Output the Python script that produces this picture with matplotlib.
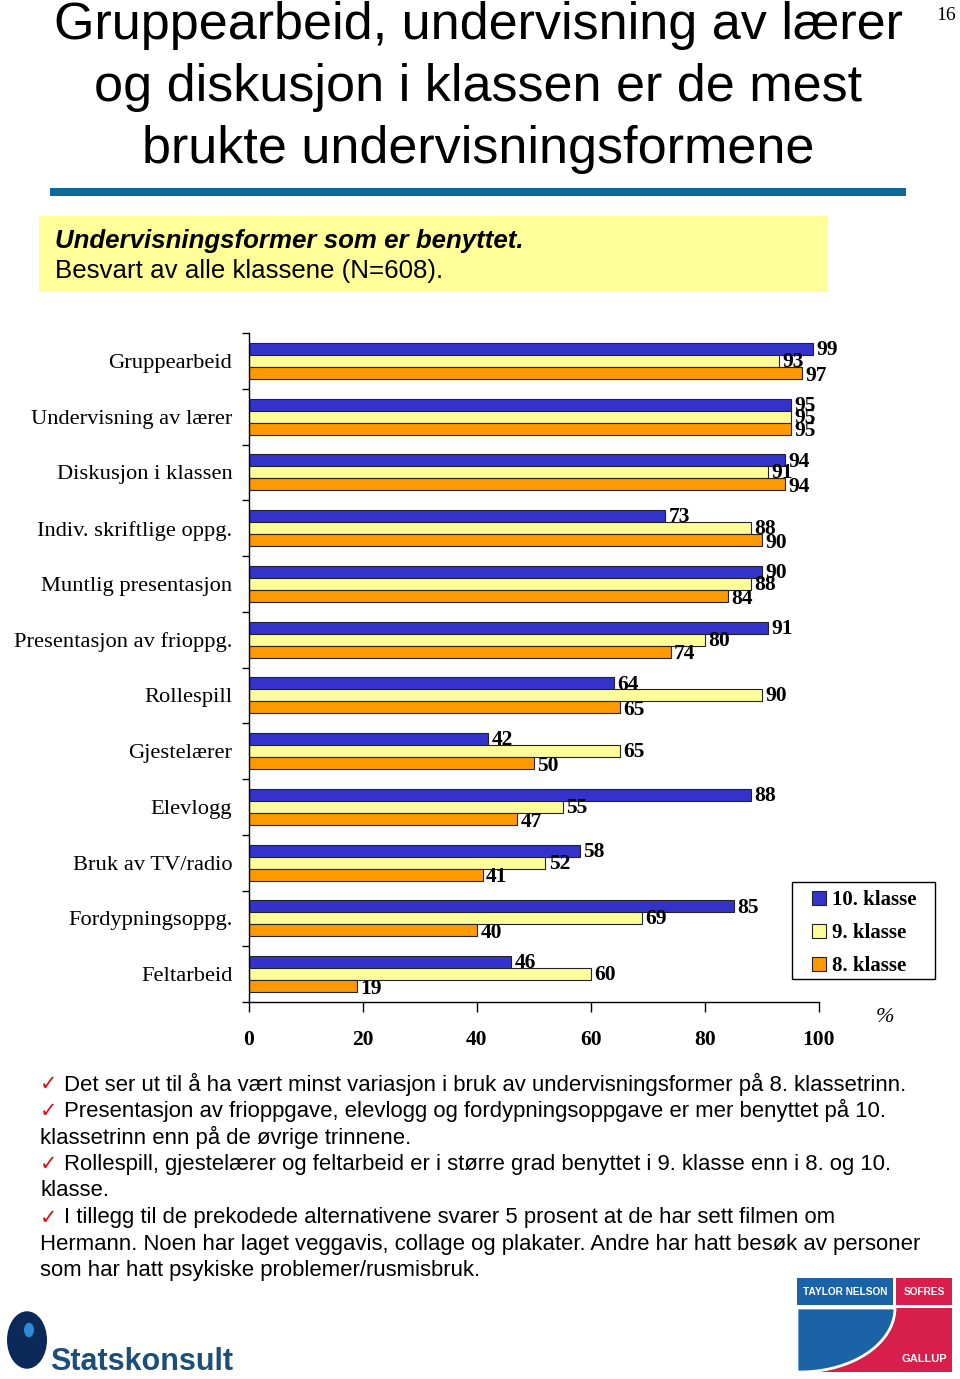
import matplotlib
matplotlib.use("Agg")
import matplotlib.pyplot as plt
import numpy as np
from matplotlib.patches import Rectangle, Patch, Circle, Polygon

categories = ["Gruppearbeid", "Undervisning av lærer", "Diskusjon i klassen",
              "Indiv. skriftlige oppg.", "Muntlig presentasjon", "Presentasjon av frioppg.",
              "Rollespill", "Gjestelærer", "Elevlogg", "Bruk av TV/radio",
              "Fordypningsoppg.", "Feltarbeid"]
series_names = ["10. klasse", "9. klasse", "8. klasse"]
klasse10 = [99, 95, 94, 73, 90, 91, 64, 42, 88, 58, 85, 46]
klasse9 = [93, 95, 91, 88, 88, 80, 90, 65, 55, 52, 69, 60]
klasse8 = [97, 95, 94, 90, 84, 74, 65, 50, 47, 41, 40, 19]
x_ticks = [0, 20, 40, 60, 80, 100]

title_lines = ["Gruppearbeid, undervisning av lærer",
               "og diskusjon i klassen er de mest",
               "brukte undervisningsformene"]
subtitle_bold = "Undervisningsformer som er benyttet."
subtitle = "Besvart av alle klassene (N=608)."
bullets = [
    ["Det ser ut til å ha vært minst variasjon i bruk av undervisningsformer på 8. klassetrinn."],
    ["Presentasjon av frioppgave, elevlogg og fordypningsoppgave er mer benyttet på 10.",
     "klassetrinn enn på de øvrige trinnene."],
    ["Rollespill, gjestelærer og feltarbeid er i større grad benyttet i 9. klasse enn i 8. og 10.",
     "klasse."],
    ["I tillegg til de prekodede alternativene svarer 5 prosent at de har sett filmen om",
     "Hermann. Noen har laget veggavis, collage og plakater. Andre har hatt besøk av personer",
     "som har hatt psykiske problemer/rusmisbruk."],
]

W, H = 960, 1379
fig = plt.figure(figsize=(W / 100, H / 100), dpi=100)
fig.patch.set_facecolor("white")

def fx(x):
    return x / W

def fy(y):
    return 1 - y / H

serif = "Liberation Serif"
sans = "Liberation Sans"

# Title
for i, line in enumerate(title_lines):
    fig.text(fx(478), fy(26 + 61.5 * i), line, ha="center", va="center",
             fontsize=37.5, family=sans)
fig.text(fx(946), fy(15), "16", ha="center", va="center", fontsize=14, family=serif)

# Blue rule
fig.add_artist(Rectangle((fx(50), fy(196)), fx(856), 8 / H, transform=fig.transFigure,
                         facecolor="#0D6A9B", edgecolor="none"))
# Yellow box
fig.add_artist(Rectangle((fx(39), fy(292)), fx(789), 76 / H, transform=fig.transFigure,
                         facecolor="#FFFF99", edgecolor="none"))
fig.text(fx(55), fy(241), subtitle_bold, ha="left", va="center", fontsize=18.6,
         family=sans, weight="bold", style="italic")
fig.text(fx(55), fy(271), subtitle, ha="left", va="center", fontsize=18.6, family=sans)

# Chart
ax = fig.add_axes([fx(249), fy(1002), fx(570), (1002 - 333) / H])
n = len(categories)
y = np.arange(n)
h = 0.215
colors = ["#3333CC", "#FFFF99", "#FF9900"]
data = [klasse10, klasse9, klasse8]
offsets = [-h, 0, h]
label_dy = [0.02, 0.02, 0.05]
for vals, col, off, dy in zip(data, colors, offsets, label_dy):
    ax.barh(y + off, vals, height=h, color=col, edgecolor="#222222", linewidth=0.8)
    for yi, v in zip(y, vals):
        ax.text(v + 0.6, yi + off + dy, str(v), ha="left", va="center",
                fontsize=15.5, family=serif, weight="bold")

ax.set_xlim(0, 100)
ax.set_ylim(n - 0.5, -0.5)
ax.set_xticks(x_ticks)
ax.set_xticklabels([str(t) for t in x_ticks], family=serif, weight="bold", fontsize=15.5)
ax.set_yticks(y)
ax.set_yticklabels(categories, family=serif, fontsize=16.2)
ax.set_yticks(np.arange(n + 1) - 0.5, minor=True)
ax.tick_params(axis="y", which="major", length=0, pad=12)
ax.tick_params(axis="y", which="minor", length=5, width=1, direction="out")
ax.tick_params(axis="x", length=7, width=1, direction="out", pad=13)
for s in ["top", "right"]:
    ax.spines[s].set_visible(False)
for s in ["left", "bottom"]:
    ax.spines[s].set_linewidth(1)

fig.text(fx(885), fy(1018), "%", ha="center", va="center", fontsize=16,
         family=serif, style="italic")

# Legend
fig.add_artist(Rectangle((fx(792), fy(979)), fx(143), 97 / H, transform=fig.transFigure,
                         facecolor="white", edgecolor="black", linewidth=1))
handles = [Patch(facecolor=c, edgecolor="#222222", linewidth=0.8) for c in colors]
leg = fig.legend(handles, series_names, loc="upper left",
                 bbox_to_anchor=(fx(806), fy(884)), frameon=False,
                 prop={"family": serif, "weight": "bold", "size": 15},
                 handlelength=0.65, handleheight=0.7, handletextpad=0.3,
                 labelspacing=0.62, borderpad=0.3, borderaxespad=0)

# Bullets
yline = 1084
step = 26.7
for b in bullets:
    for j, line in enumerate(b):
        if j == 0:
            fig.text(fx(40), fy(yline), "✓", ha="left", va="center", fontsize=15,
                     family="DejaVu Sans", color="#E01010")
            fig.text(fx(64), fy(yline), line, ha="left", va="center", fontsize=15.9, family=sans)
        else:
            fig.text(fx(40), fy(yline), line, ha="left", va="center", fontsize=15.9, family=sans)
        yline += step

# Statskonsult logo
fig.add_artist(Circle((fx(27), fy(1340)), 20 / W, transform=fig.transFigure,
                      facecolor="#0B2A5A", edgecolor="none"))
fig.add_artist(Circle((fx(29), fy(1330)), 5 / W, transform=fig.transFigure,
                      facecolor="#2E8BD8", edgecolor="none"))
fig.text(fx(50), fy(1362), "Statskonsult", ha="left", va="center", fontsize=22,
         family=sans, weight="bold", color="#1B4F7A")

# TNS logo
x0, y0, x1, y1 = 797, 1278, 952, 1372
fig.add_artist(Rectangle((fx(x0), fy(1305)), fx(96), 27 / H, transform=fig.transFigure,
                         facecolor="#1A63A6", edgecolor="none"))
fig.add_artist(Rectangle((fx(896), fy(1305)), fx(56), 27 / H, transform=fig.transFigure,
                         facecolor="#D81E4A", edgecolor="none"))
fig.text(fx(845), fy(1292), "TAYLOR NELSON", ha="center", va="center", fontsize=7.3,
         family=sans, weight="bold", color="white")
fig.text(fx(924), fy(1292), "SOFRES", ha="center", va="center", fontsize=7.3,
         family=sans, weight="bold", color="white")
fig.add_artist(Rectangle((fx(x0), fy(y1)), fx(155), (y1 - 1308) / H, transform=fig.transFigure,
                         facecolor="#D81E4A", edgecolor="none"))
t = np.linspace(0, 1, 40)
cx = 895 - 95 * (1 - np.cos(t * np.pi / 2))
cy = 1308 + 64 * np.sin(t * np.pi / 2)
pts = [(fx(x0), fy(1308))] + [(fx(a), fy(b)) for a, b in zip(cx, cy)] + [(fx(x0), fy(y1))]
fig.add_artist(Polygon(pts, closed=True, transform=fig.transFigure,
                       facecolor="#1A63A6", edgecolor="white", linewidth=2))
fig.text(fx(924), fy(1359), "GALLUP", ha="center", va="center", fontsize=8,
         family=sans, weight="bold", color="white")

fig.savefig("out.png", dpi=100, facecolor="white")
